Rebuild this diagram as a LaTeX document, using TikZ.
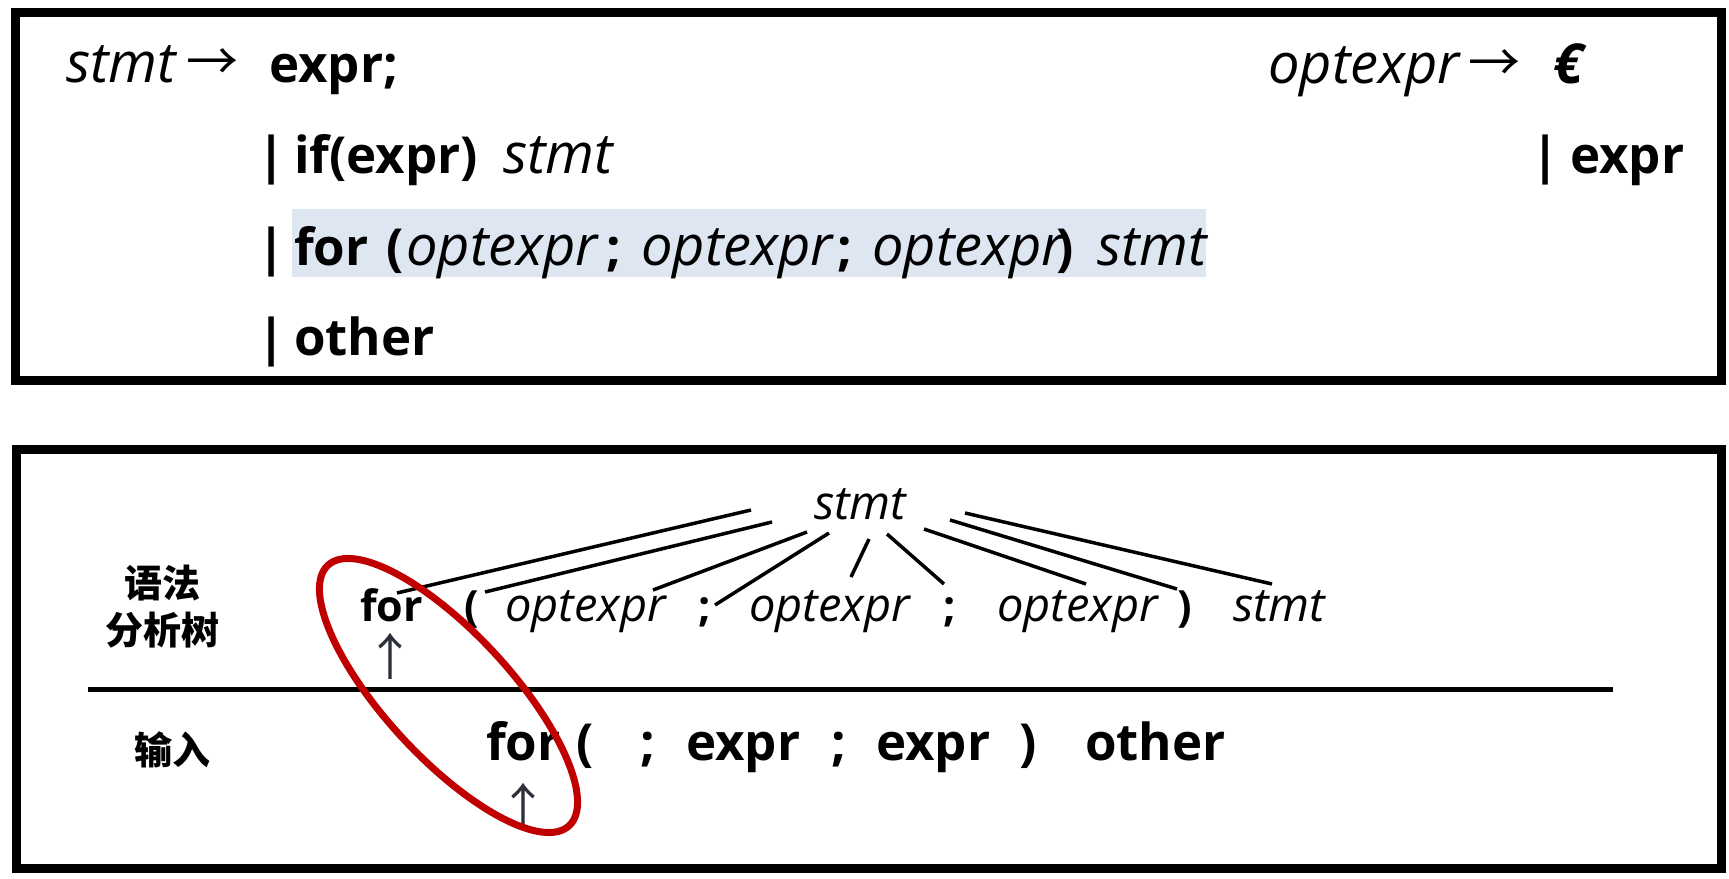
\documentclass[tikz,border=0pt]{standalone}
\usepackage{fontspec}
\setmainfont{Open Sans}
\newfontfamily\cjk{Noto Sans CJK SC}
\definecolor{hl}{RGB}{222,230,241}
\definecolor{ellred}{RGB}{192,0,0}
\definecolor{arrgray}{RGB}{45,48,58}
\begin{document}
\begin{tikzpicture}[x=1pt,y=-1pt,
  big/.style={inner sep=0pt, anchor=base west, font=\fontsize{51}{56}\selectfont},
  bigb/.style={big, font=\fontsize{51}{56}\selectfont\bfseries},
  bigi/.style={big, font=\fontsize{56}{60}\selectfont\itshape},
  sml/.style={inner sep=0pt, anchor=base west},
  smlb/.style={sml, font=\fontsize{43}{48}\selectfont\bfseries},
  smli/.style={sml, font=\fontsize{47}{52}\selectfont\itshape},
  lab/.style={inner sep=0pt, font=\cjk\fontsize{38}{44}\selectfont\bfseries},
  arrglyph/.style={inner sep=0pt, font=\cjk\fontsize{52}{56}\selectfont},
  uparrow/.style={inner sep=0pt, text=arrgray, font=\cjk\fontsize{50}{54}\selectfont},
  frame/.style={line width=9pt},
  edge/.style={line width=3.5pt},
]
\useasboundingbox (0,0) rectangle (1729,878);
% boxes
\draw[frame] (15.5,12.5) rectangle (1721.5,380.5);
\draw[frame] (16,449.5) rectangle (1721.5,868.5);
% highlight
\fill[hl] (292,209) rectangle (1206,277);
% ---- grammar, top box
\node[bigi] (g1a) at (66,82) {stmt};
\node[arrglyph, anchor=center] (g1arr) at (212,65) {→};
\node[bigb] (g1b) at (269,82) {expr;};
\node[bigb] (bar2) at (257,173) {|};
\node[bigb] (g2a) at (294,173) {if(expr)};
\node[bigi] (g2b) at (503,173) {stmt};
\node[bigb] (bar3) at (257,265) {|};
\node[bigb] (g3a) at (294,265) {for};
\node[bigb] (g3b) at (386,265) {(};
\node[bigi] (g3c) at (406,265) {optexpr};
\node[bigb] (g3d) at (606,265) {;};
\node[bigi] (g3e) at (641,265) {optexpr};
\node[bigb] (g3f) at (837,265) {;};
\node[bigi] (g3g) at (872,265) {optexpr};
\node[bigb] (g3h) at (1056,265) {)};
\node[bigi] (g3i) at (1097,265) {stmt};
\node[bigb] (bar4) at (257,355) {|};
\node[bigb] (g4a) at (294,355) {other};
\node[bigi] (o1a) at (1268,83) {optexpr};
\node[arrglyph, anchor=center] (o1arr) at (1494,66) {→};
\node[big, font=\fontsize{55}{60}\selectfont\bfseries\itshape] (o1b) at (1553,83) {€};
\node[bigb] (bar5) at (1531,173) {|};
\node[bigb] (o2a) at (1570,173) {expr};
% ---- bottom box labels
\node[lab] (l1) at (162,583) {语法};
\node[lab] (l2) at (162,630) {分析树};
\node[lab] (l3) at (172,750) {输入};
\draw[line width=5pt] (88,689.5) coordinate (hl0) -- (1613,689.5) coordinate (hl1);
% ---- parse tree
\node[smli] (root) at (814,519) {stmt};
\node[smlb] (tfor) at (360,621) {for};
\node[smlb] (tlp) at (464,621) {(};
\node[smli] (to1) at (505,621) {optexpr};
\node[smlb] (tsc1) at (698,621) {;};
\node[smli] (to2) at (749,621) {optexpr};
\node[smlb] (tsc2) at (943,621) {;};
\node[smli] (to3) at (997,621) {optexpr};
\node[smlb] (trp) at (1177,621) {)};
\node[smli] (tst) at (1233,621) {stmt};
\coordinate (s1) at (751,510); \coordinate (e1) at (397,593);
\coordinate (s2) at (772,522); \coordinate (e2) at (485,592);
\coordinate (s3) at (807,532); \coordinate (e3) at (653,590);
\coordinate (s4) at (829,533); \coordinate (e4) at (715,605);
\coordinate (s5) at (869,539); \coordinate (e5) at (851,577);
\coordinate (s6) at (887,534); \coordinate (e6) at (944,584);
\coordinate (s7) at (924,529); \coordinate (e7) at (1086,584);
\coordinate (s8) at (950,520); \coordinate (e8) at (1177,589);
\coordinate (s9) at (965,513); \coordinate (e9) at (1272,584);
\foreach \i in {1,...,9} \draw[edge] (s\i) -- (e\i);
% ---- input
\node[bigb] (ifor) at (486,760) {for};
\node[bigb] (ilp) at (576,760) {(};
\node[bigb] (isc1) at (640,760) {;};
\node[bigb] (iex1) at (686,760) {expr};
\node[bigb] (isc2) at (831,760) {;};
\node[bigb] (iex2) at (876,760) {expr};
\node[bigb] (irp) at (1019,760) {)};
\node[bigb] (ioth) at (1085,760) {other};
% pointers
\node[uparrow] (p1) at (390,656) {↑};
\node[uparrow] (p2) at (523,806) {↑};
% ellipse
\draw[ellred, line width=7pt, rotate around={-47.2:(448.5,695.5)}] (448.5,695.5) ellipse [x radius=177.5pt, y radius=62.6pt];
\end{tikzpicture}
\end{document}
